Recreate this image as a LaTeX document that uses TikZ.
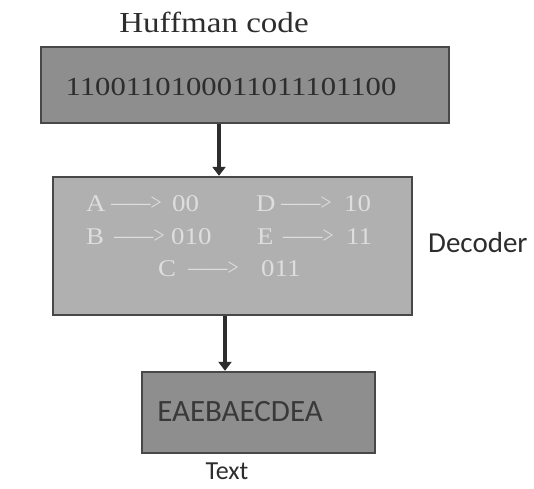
\documentclass[tikz,border=0pt]{standalone}
\usepackage{fontspec}
\setmainfont{Liberation Serif}
\newfontfamily\carlfont{Carlito}
\usetikzlibrary{arrows.meta}
\definecolor{boxdark}{RGB}{142,142,142}
\definecolor{boxlight}{RGB}{176,176,176}
\definecolor{edgecol}{RGB}{72,72,72}
\definecolor{inktext}{RGB}{45,45,45}
\definecolor{palet}{RGB}{222,222,222}
\tikzset{
  panel/.style={draw=edgecol, line width=2.4pt, rectangle, inner sep=0pt},
  flowarrow/.style={draw=inktext, line width=4.5pt, -{Triangle[width=13pt,length=9pt]}},
  maptext/.style={text=palet, font=\fontsize{24}{24}\selectfont, inner sep=0pt, anchor=west, xscale=1.12},
  maparrow/.style={text=palet, font=\fontsize{24}{24}\selectfont, inner sep=0pt, anchor=west, xscale=0.82},
}
\begin{document}
\begin{tikzpicture}[x=1pt,y=-1pt]
\useasboundingbox (0,0) rectangle (534,488);
% title
\node[text=inktext, font=\fontsize{29}{29}\selectfont, xscale=1.14] (title) at (214,22) {Huffman code};
% top box
\node[panel, fill=boxdark, minimum width=408pt, minimum height=76pt] (code) at (245,85) {};
\node[text=inktext, font=\fontsize{26}{26}\selectfont, xscale=1.18] (bits) at (231,87) {1100110100011011101100};
% decoder box
\node[panel, fill=boxlight, minimum width=359pt, minimum height=138pt] (dec) at (232.5,246) {};
% row 1
\node[maptext] (la) at (86,204) {A};
\node[maparrow] (xa) at (111,204) {——>};
\node[maptext] (ca) at (172,204) {00};
\node[maptext] (ld) at (256,204) {D};
\node[maparrow] (xd) at (281,204) {——>};
\node[maptext] (cd) at (344,204) {10};
% row 2
\node[maptext] (lb) at (86,237) {B};
\node[maparrow] (xb) at (114,237) {——>};
\node[maptext] (cb) at (171,237) {010};
\node[maptext] (le) at (257,237) {E};
\node[maparrow] (xe) at (283,237) {——>};
\node[maptext] (ce) at (346,237) {11};
% row 3
\node[maptext] (lc) at (158,269) {C};
\node[maparrow] (xc) at (188,269) {——>};
\node[maptext] (cc) at (261,269) {011};
\node[text=inktext, font=\carlfont\fontsize{29}{29}\selectfont, anchor=west, inner sep=0pt] (declab) at (428,243) {Decoder};
% text box
\node[panel, fill=boxdark, minimum width=233pt, minimum height=81pt] (out) at (258.5,412.5) {};
\node[text=inktext!85!gray, font=\carlfont\fontsize{31}{31}\selectfont] (outtext) at (240,412) {EAEBAECDEA};
\node[text=inktext, font=\carlfont\fontsize{26}{26}\selectfont] (textlab) at (227,471) {Text};
% arrows
\coordinate (ax1) at (219,0);
\coordinate (ax2) at (225,0);
\draw[flowarrow] (code.south -| ax1) -- (dec.north -| ax1);
\draw[flowarrow] (dec.south -| ax2) -- (out.north -| ax2);
\end{tikzpicture}
\end{document}
